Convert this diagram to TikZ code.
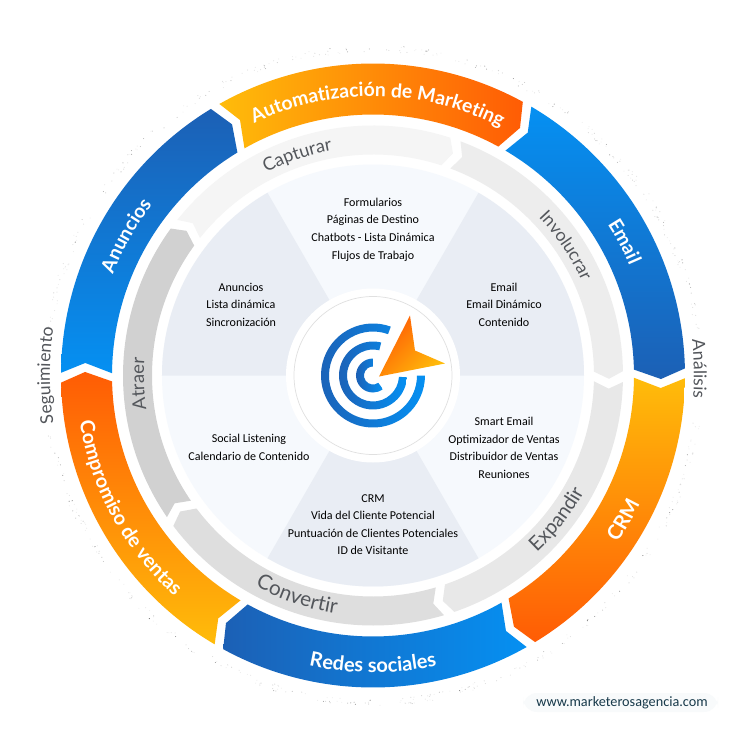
\documentclass[tikz,border=0pt]{standalone}
\usepackage{fontspec}
\setmainfont{Carlito}
\newfontfamily\latofont{Lato}
\usetikzlibrary{decorations.text}

\definecolor{bluedark}{HTML}{1C60B5}
\definecolor{bluelight}{HTML}{0590F2}
\definecolor{yellowring}{HTML}{FFBC0A}
\definecolor{orangering}{HTML}{FF5C05}
\definecolor{sectordark}{HTML}{E9EDF4}
\definecolor{sectorlight}{HTML}{F6F9FD}
\definecolor{labelgrey}{HTML}{53565B}
\definecolor{webtext}{HTML}{17394A}
\definecolor{webback}{HTML}{F8FAFB}

\tikzset{
  item/.style={align=center, text=black, font=\fontsize{6.85}{10}\selectfont},
  logoarc/.style={left color=bluedark, right color=bluelight, draw=none},
}

% outer ring piece, from angle #1 clockwise to angle #2
\newcommand{\outerpath}[2]{
  (#1-0.5:312) arc[start angle=#1-0.5, end angle=#2+1.3, radius=312]
  -- (#2-0.7:288) -- (#2+1.3:261)
  arc[start angle=#2+1.3, end angle=#1-0.5, radius=261]
  -- (#1-2.5:288) -- cycle
}
% inner ring piece
\newcommand{\innerpath}[2]{
  (#1-1.5:250) arc[start angle=#1-1.5, end angle=#2+1, radius=250]
  -- (#2-0.8:236) -- (#2+1:221)
  arc[start angle=#2+1, end angle=#1-1.5, radius=221]
  -- (#1-3.2:236) -- cycle
}
% curved label: start angle, end angle, radius, text, font, colour
\newcommand{\ringlabel}[6]{
  \path[decorate, decoration={text along path, text align=center,
    text={|\latofont#5\color{#6}|#4}}]
    (#1:#3) arc[start angle=#1, end angle=#2, radius=#3];
}
\newcommand{\whitesize}[1]{\bfseries\fontsize{#1}{12}\selectfont}
\newcommand{\greysize}[1]{\fontsize{#1}{12}\selectfont}

\begin{document}
\begin{tikzpicture}[x=0.02cm, y=0.02cm]

\path[fill=white, use as bounding box] (-373,-375.5) rectangle (377,375.5);

\coordinate (hub) at (0,0);

\pgfmathsetseed{41}
\foreach \k in {1,...,560}{
  \pgfmathsetmacro{\ang}{rnd*360}
  \pgfmathsetmacro{\rad}{323.5+rnd*7}
  \pgfmathsetmacro{\dotshade}{6+rnd*rnd*rnd*80}
  \ifdim\ang pt>352pt\else\ifdim\ang pt<8pt\else\ifdim\ang pt>172pt\ifdim\ang pt<190pt\else
    \fill[black!\dotshade] (\ang:\rad) circle (0.5);
  \fi\else
    \fill[black!\dotshade] (\ang:\rad) circle (0.5);
  \fi\fi\fi
}

\shade[left color=yellowring, right color=orangering] \outerpath{120}{60};
\shade[top color=bluelight, bottom color=bluedark] \outerpath{60}{0};
\shade[top color=yellowring, bottom color=orangering] \outerpath{0}{-60};
\shade[left color=bluedark, right color=bluelight] \outerpath{-60}{-120};
\shade[top color=orangering, bottom color=yellowring] \outerpath{-120}{-180};
\shade[top color=bluedark, bottom color=bluelight] \outerpath{180}{120};

\fill[black!4] \innerpath{143}{71};
\fill[black!7] \innerpath{71}{0};
\fill[black!9] \innerpath{0}{-72};
\fill[black!13] \innerpath{-72}{-144};
\fill[black!18] \innerpath{216}{143};

\fill[sectorlight] (hub) circle (211);
\foreach \a in {0,120,240}
  \fill[sectordark] (hub) -- (\a:211) arc[start angle=\a, end angle=\a+60, radius=211] -- cycle;

\fill[white] (hub) circle (87);
\draw[black!12, line width=0.4pt] (hub) circle (79);

\shade[logoarc] (70:52) arc[start angle=70, end angle=360, radius=52]
  -- (0:44) arc[start angle=360, end angle=70, radius=44] -- cycle;
\shade[logoarc] (76:34) arc[start angle=76, end angle=357, radius=34]
  -- (357:26) arc[start angle=357, end angle=76, radius=26] -- cycle;
\shade[logoarc] (90:17) arc[start angle=90, end angle=306, radius=17]
  -- (306:9) arc[start angle=306, end angle=90, radius=9] -- cycle;
\shade[left color=orangering, right color=yellowring, shading angle=45]
  (6,-1) -- (37,60) -- (42,25) -- (72,12) -- cycle;

\node[item] (formularios) at (0,146) {Formularios\\Páginas de Destino\\Chatbots - Lista Dinámica\\Flujos de Trabajo};
\node[item] (email) at (131,71) {Email\\Email Dinámico\\Contenido};
\node[item] (smart) at (131,-72.5) {Smart Email\\Optimizador de Ventas\\Distribuidor de Ventas\\Reuniones};
\node[item] (crm) at (0,-149) {CRM\\Vida del Cliente Potencial\\Puntuación de Clientes Potenciales\\ID de Visitante};
\node[item] (social) at (-124,-72) {Social Listening\\Calendario de Contenido};
\node[item] (anuncios) at (-132,71) {Anuncios\\Lista dinámica\\Sincronización};

\ringlabel{124}{54}{279}{Automatización de Marketing}{\whitesize{11}}{white}
\ringlabel{48}{8}{279}{Email}{\whitesize{11}}{white}
\ringlabel{-55}{-5}{296}{CRM}{\whitesize{11.5}}{white}
\ringlabel{-115}{-65}{297}{Redes sociales}{\whitesize{11.4}}{white}
\ringlabel{-176.5}{-126.5}{297}{Compromiso de ventas}{\whitesize{11.3}}{white}
\ringlabel{175.5}{125.5}{279}{Anuncios}{\whitesize{11}}{white}

\ringlabel{139}{79}{229}{Capturar}{\greysize{10.3}}{labelgrey}
\ringlabel{64}{4}{229}{Involucrar}{\greysize{10}}{labelgrey}
\ringlabel{-63}{-13}{241}{Expandir}{\greysize{11.4}}{labelgrey}
\ringlabel{-134}{-84}{241}{Convertir}{\greysize{11.8}}{labelgrey}
\ringlabel{202}{162}{229}{Atraer}{\greysize{10.5}}{labelgrey}

\ringlabel{21.2}{-18.8}{321}{Análisis}{\greysize{10}}{labelgrey}
\ringlabel{200}{160}{323}{Seguimiento}{\greysize{10}}{labelgrey}

\fill[webback, rounded corners=8] (150,-317.5) rectangle (345,-336.5);
\node[text=webtext, font=\fontsize{8.1}{9}\selectfont] (web) at (249,-327) {www.marketerosagencia.com};

\end{tikzpicture}
\end{document}
